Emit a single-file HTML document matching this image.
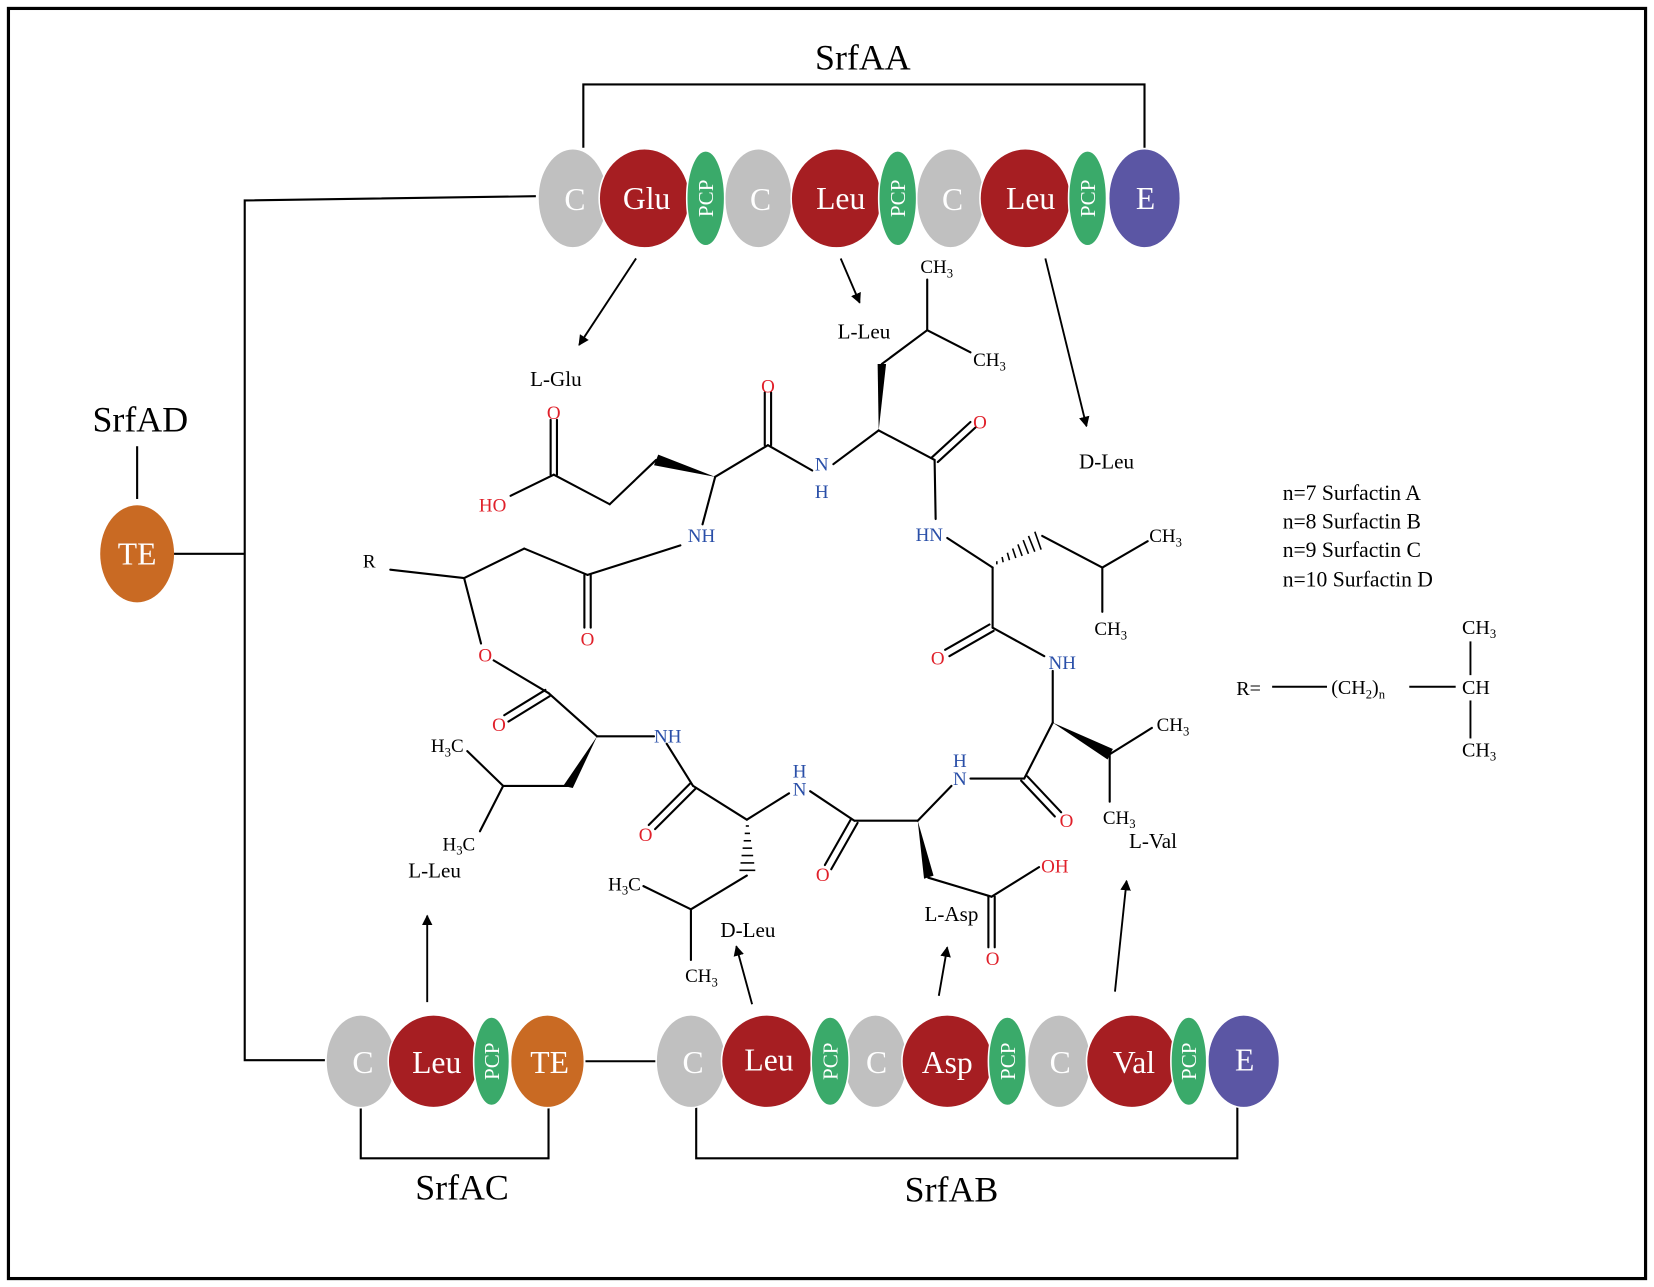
<!DOCTYPE html>
<html><head><meta charset="utf-8"><style>
html,body{margin:0;padding:0;background:#fff}
svg{display:block}
text{font-family:"Liberation Serif",serif}
</style></head><body>
<svg width="1654" height="1287" viewBox="0 0 1568 1220" preserveAspectRatio="none" xmlns="http://www.w3.org/2000/svg">
<rect x="8" y="8" width="1552" height="1204" fill="#fff" stroke="#000" stroke-width="3"/>
<g stroke="#000" stroke-width="2" fill="none">
<polyline points="553,140 553,80 1085,80 1085,140"/>
<polyline points="508,186 232,190 232,1005 308,1005"/>
<line x1="165" y1="525" x2="232" y2="525"/>
<line x1="130" y1="423" x2="130" y2="473"/>
<line x1="555" y1="1006" x2="622" y2="1006"/>
<polyline points="342,1048 342,1098 520,1098 520,1048"/>
<polyline points="660,1048 660,1098 1173,1098 1173,1048"/>
</g>
<g font-size="34" text-anchor="middle" fill="#000">
<text x="818" y="66">SrfAA</text>
<text x="133" y="409">SrfAD</text>
<text x="438" y="1137">SrfAC</text>
<text x="902" y="1139">SrfAB</text>
</g>
<g stroke="#fff" stroke-width="1.5">
<ellipse cx="543" cy="188" rx="33" ry="47" fill="#c0c0c0"/>
<ellipse cx="719" cy="188" rx="32" ry="47" fill="#c0c0c0"/>
<ellipse cx="901" cy="188" rx="32" ry="47" fill="#c0c0c0"/>
<ellipse cx="611" cy="188" rx="43" ry="47" fill="#a61e22"/>
<ellipse cx="793" cy="188" rx="43" ry="47" fill="#a61e22"/>
<ellipse cx="972" cy="188" rx="43" ry="47" fill="#a61e22"/>
<ellipse cx="669" cy="188" rx="18" ry="45" fill="#3aaa6a"/>
<ellipse cx="851" cy="188" rx="18" ry="45" fill="#3aaa6a"/>
<ellipse cx="1031" cy="188" rx="18" ry="45" fill="#3aaa6a"/>
<ellipse cx="1085" cy="188" rx="34" ry="47" fill="#5b56a4"/>
</g>
<g fill="#fff" font-size="30" text-anchor="middle">
<text x="545" y="199">C</text><text x="721" y="199">C</text><text x="903" y="199">C</text>
<text x="613" y="198">Glu</text><text x="797" y="198">Leu</text><text x="977" y="198">Leu</text>
<text x="1086" y="198">E</text>
</g>
<g fill="#fff" font-size="20" text-anchor="middle">
<text transform="translate(676,188) rotate(-90)">PCP</text>
<text transform="translate(858,188) rotate(-90)">PCP</text>
<text transform="translate(1038,188) rotate(-90)">PCP</text>
</g>
<ellipse cx="130" cy="525" rx="35" ry="46" fill="#c96a23"/>
<text x="130" y="535" fill="#fff" font-size="30" text-anchor="middle">TE</text>
<g stroke="#fff" stroke-width="1.5">
<ellipse cx="342" cy="1006" rx="33" ry="44" fill="#c0c0c0"/>
<ellipse cx="655" cy="1006" rx="33" ry="44" fill="#c0c0c0"/>
<ellipse cx="830" cy="1006" rx="30" ry="44" fill="#c0c0c0"/>
<ellipse cx="1004" cy="1006" rx="30" ry="44" fill="#c0c0c0"/>
<ellipse cx="411" cy="1006" rx="43" ry="44" fill="#a61e22"/>
<ellipse cx="727" cy="1006" rx="43" ry="44" fill="#a61e22"/>
<ellipse cx="898" cy="1006" rx="43" ry="44" fill="#a61e22"/>
<ellipse cx="1073" cy="1006" rx="43" ry="44" fill="#a61e22"/>
<ellipse cx="466" cy="1006" rx="17" ry="42" fill="#3aaa6a"/>
<ellipse cx="787" cy="1006" rx="18" ry="42" fill="#3aaa6a"/>
<ellipse cx="955" cy="1006" rx="18" ry="42" fill="#3aaa6a"/>
<ellipse cx="1127" cy="1006" rx="17" ry="42" fill="#3aaa6a"/>
<ellipse cx="519" cy="1006" rx="35" ry="44" fill="#c96a23"/>
<ellipse cx="1179" cy="1006" rx="34" ry="44" fill="#5b56a4"/>
</g>
<g fill="#fff" font-size="30" text-anchor="middle">
<text x="344" y="1017">C</text><text x="657" y="1017">C</text><text x="831" y="1017">C</text><text x="1005" y="1017">C</text>
<text x="414" y="1017">Leu</text><text x="729" y="1015">Leu</text><text x="898" y="1017">Asp</text><text x="1075" y="1017">Val</text>
<text x="521" y="1017">TE</text><text x="1180" y="1015">E</text>
</g>
<g fill="#fff" font-size="20" text-anchor="middle">
<text transform="translate(473,1006) rotate(-90)">PCP</text>
<text transform="translate(794,1006) rotate(-90)">PCP</text>
<text transform="translate(962,1006) rotate(-90)">PCP</text>
<text transform="translate(1134,1006) rotate(-90)">PCP</text>
</g>
<defs><marker id="ah" markerWidth="10" markerHeight="10" refX="9" refY="5" orient="auto" markerUnits="userSpaceOnUse"><path d="M0,0 L10,5 L0,10 z" fill="#000"/></marker></defs>
<g stroke="#000" stroke-width="1.8" marker-end="url(#ah)">
<line x1="603" y1="245" x2="549" y2="327"/>
<line x1="797" y1="245" x2="815" y2="287"/>
<line x1="991" y1="245" x2="1030" y2="404"/>
<line x1="405" y1="950" x2="405" y2="868"/>
<line x1="713" y1="952" x2="698" y2="897"/>
<line x1="890" y1="944" x2="898" y2="898"/>
<line x1="1057" y1="940" x2="1068" y2="835"/>
</g>
<g font-size="20" text-anchor="middle" fill="#000">
<text x="527" y="366">L-Glu</text>
<text x="819" y="321">L-Leu</text>
<text x="1049" y="444">D-Leu</text>
<text x="412" y="832">L-Leu</text>
<text x="709" y="888">D-Leu</text>
<text x="902" y="873">L-Asp</text>
<text x="1093" y="804">L-Val</text>
</g>
<g stroke="#000" stroke-width="2" fill="none" stroke-linecap="round">
<line x1="522" y1="398" x2="522" y2="450"/><line x1="528" y1="398" x2="528" y2="450"/>
<line x1="484" y1="470" x2="525" y2="450"/>
<line x1="525" y1="450" x2="578" y2="478"/>
<line x1="578" y1="478" x2="622" y2="436"/>
<line x1="678" y1="452" x2="728" y2="422"/>
<line x1="725" y1="372" x2="725" y2="422"/><line x1="731" y1="372" x2="731" y2="422"/>
<line x1="728" y1="422" x2="770" y2="446"/>
<line x1="790" y1="440" x2="833" y2="408"/>
<line x1="879" y1="313" x2="836" y2="345"/>
<line x1="879" y1="313" x2="879" y2="265"/>
<line x1="879" y1="313" x2="920" y2="334"/>
<line x1="833" y1="408" x2="886" y2="436"/>
<line x1="883" y1="434" x2="920" y2="400"/><line x1="889" y1="438" x2="925" y2="405"/>
<line x1="886" y1="436" x2="887" y2="492"/>
<line x1="898" y1="510" x2="941" y2="538"/>
<line x1="988" y1="508" x2="1045" y2="538"/>
<line x1="1045" y1="538" x2="1088" y2="513"/>
<line x1="1045" y1="538" x2="1045" y2="580"/>
<line x1="941" y1="538" x2="941" y2="595"/>
<line x1="941" y1="595" x2="990" y2="622"/>
<line x1="938" y1="592" x2="896" y2="616"/><line x1="942" y1="598" x2="900" y2="622"/>
<line x1="998" y1="636" x2="998" y2="685"/>
<line x1="1052" y1="715" x2="1092" y2="690"/>
<line x1="1052" y1="715" x2="1052" y2="760"/>
<line x1="998" y1="685" x2="971" y2="738"/>
<line x1="968" y1="740" x2="1000" y2="774"/><line x1="974" y1="736" x2="1006" y2="770"/>
<line x1="971" y1="738" x2="920" y2="738"/>
<line x1="902" y1="745" x2="870" y2="778"/>
<line x1="870" y1="778" x2="810" y2="778"/>
<line x1="807" y1="776" x2="782" y2="820"/><line x1="813" y1="780" x2="788" y2="824"/>
<line x1="880" y1="832" x2="940" y2="850"/>
<line x1="940" y1="850" x2="985" y2="822"/>
<line x1="937" y1="850" x2="937" y2="898"/><line x1="943" y1="850" x2="943" y2="898"/>
<line x1="810" y1="778" x2="768" y2="750"/>
<line x1="748" y1="752" x2="708" y2="777"/>
<line x1="708" y1="830" x2="655" y2="862"/>
<line x1="655" y1="862" x2="610" y2="840"/>
<line x1="655" y1="862" x2="655" y2="910"/>
<line x1="708" y1="777" x2="657" y2="745"/>
<line x1="654" y1="743" x2="615" y2="782"/><line x1="660" y1="747" x2="621" y2="786"/>
<line x1="657" y1="745" x2="632" y2="705"/>
<line x1="620" y1="698" x2="566" y2="698"/>
<line x1="538" y1="745" x2="477" y2="745"/>
<line x1="477" y1="745" x2="443" y2="712"/>
<line x1="477" y1="745" x2="455" y2="788"/>
<line x1="566" y1="698" x2="520" y2="657"/>
<line x1="517" y1="654" x2="478" y2="678"/><line x1="521" y1="660" x2="482" y2="684"/>
<line x1="520" y1="657" x2="468" y2="626"/>
<line x1="456" y1="610" x2="440" y2="548"/>
<line x1="440" y1="548" x2="370" y2="540"/>
<line x1="440" y1="548" x2="497" y2="520"/>
<line x1="497" y1="520" x2="557" y2="545"/>
<line x1="554" y1="545" x2="554" y2="595"/><line x1="560" y1="545" x2="560" y2="595"/>
<line x1="557" y1="545" x2="645" y2="517"/>
<line x1="666" y1="497" x2="678" y2="452"/>
</g>
<g fill="#000">
<polygon points="678,452 620,441 624,431"/>
<polygon points="833,408 832,345 840,345"/>
<polygon points="998,685 1050,720 1055,710"/>
<polygon points="870,778 876,833 885,830"/>
<polygon points="566,698 534,745 543,747"/>
</g>
<g stroke="#000" stroke-width="1.5">
<line x1="945" y1="535" x2="945" y2="532"/><line x1="951" y1="533" x2="950" y2="528"/><line x1="957" y1="531" x2="955" y2="524"/>
<line x1="963" y1="529" x2="960" y2="520"/><line x1="969" y1="527" x2="965" y2="516"/><line x1="975" y1="525" x2="970" y2="512"/>
<line x1="981" y1="523" x2="975" y2="508"/><line x1="987" y1="521" x2="981" y2="504"/>
<line x1="707" y1="783" x2="710" y2="783"/><line x1="706" y1="790" x2="711" y2="790"/><line x1="705" y1="797" x2="712" y2="797"/>
<line x1="704" y1="804" x2="713" y2="804"/><line x1="703" y1="811" x2="714" y2="811"/><line x1="702" y1="818" x2="715" y2="818"/>
<line x1="701" y1="825" x2="716" y2="825"/>
</g>
<g font-size="18" fill="#e0202a" text-anchor="middle">
<text x="525" y="397">O</text><text x="467" y="485">HO</text><text x="728" y="372">O</text>
<text x="929" y="406">O</text><text x="889" y="630">O</text><text x="1011" y="784">O</text>
<text x="780" y="835">O</text><text x="1000" y="827">OH</text><text x="941" y="915">O</text>
<text x="612" y="797">O</text><text x="473" y="693">O</text><text x="460" y="627">O</text><text x="557" y="612">O</text>
</g>
<g font-size="18" fill="#2a4fa8" text-anchor="middle">
<text x="779" y="446">N</text><text x="779" y="472">H</text>
<text x="881" y="513">HN</text><text x="1007" y="634">NH</text>
<text x="910" y="727">H</text><text x="910" y="744">N</text>
<text x="758" y="737">H</text><text x="758" y="754">N</text>
<text x="633" y="704">NH</text><text x="665" y="514">NH</text>
</g>
<g font-size="18" fill="#000" text-anchor="middle">
<text x="888" y="259">CH<tspan font-size="12" dy="4">3</tspan></text>
<text x="938" y="347">CH<tspan font-size="12" dy="4">3</tspan></text>
<text x="1105" y="514">CH<tspan font-size="12" dy="4">3</tspan></text>
<text x="1053" y="602">CH<tspan font-size="12" dy="4">3</tspan></text>
<text x="1112" y="693">CH<tspan font-size="12" dy="4">3</tspan></text>
<text x="1061" y="781">CH<tspan font-size="12" dy="4">3</tspan></text>
<text x="592" y="844">H<tspan font-size="12" dy="4">3</tspan><tspan dy="-4">C</tspan></text>
<text x="665" y="931">CH<tspan font-size="12" dy="4">3</tspan></text>
<text x="424" y="713">H<tspan font-size="12" dy="4">3</tspan><tspan dy="-4">C</tspan></text>
<text x="435" y="806">H<tspan font-size="12" dy="4">3</tspan><tspan dy="-4">C</tspan></text>
<text x="350" y="538">R</text>
</g>
<g font-size="20.5" fill="#000">
<text x="1216" y="474">n=7 Surfactin A</text>
<text x="1216" y="501">n=8 Surfactin B</text>
<text x="1216" y="528">n=9 Surfactin C</text>
<text x="1216" y="556">n=10 Surfactin D</text>
</g>
<g font-size="19" fill="#000">
<text x="1172" y="659">R=</text>
<text x="1262" y="658">(CH<tspan font-size="12" dy="4">2</tspan><tspan dy="-4">)</tspan><tspan font-size="12" dy="4">n</tspan></text>
<text x="1386" y="658">CH</text>
<text x="1386" y="601">CH<tspan font-size="12" dy="4">3</tspan></text>
<text x="1386" y="717">CH<tspan font-size="12" dy="4">3</tspan></text>
</g>
<g stroke="#000" stroke-width="1.8">
<line x1="1206" y1="651" x2="1258" y2="651"/>
<line x1="1336" y1="651" x2="1380" y2="651"/>
<line x1="1394" y1="608" x2="1394" y2="640"/>
<line x1="1394" y1="664" x2="1394" y2="700"/>
</g>
</svg>
</body></html>
